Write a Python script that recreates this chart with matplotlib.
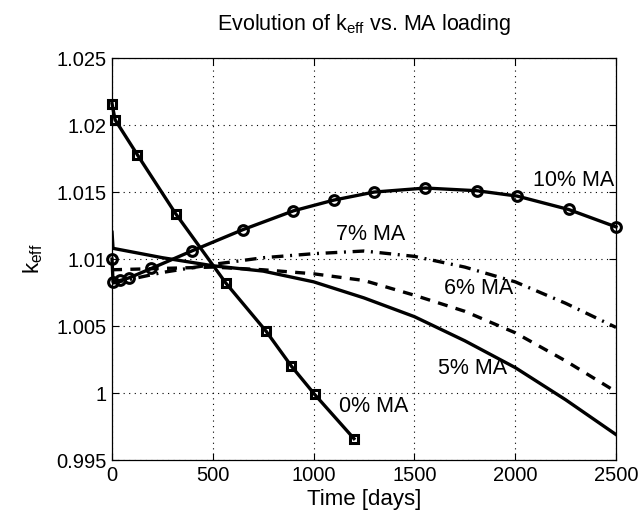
import matplotlib
matplotlib.use("Agg")
import matplotlib.pyplot as plt

plt.rcParams['font.family'] = ['Liberation Sans', 'DejaVu Sans']
plt.rcParams['mathtext.fontset'] = 'custom'
plt.rcParams['mathtext.rm'] = 'Liberation Sans'
plt.rcParams['mathtext.it'] = 'Liberation Sans'

# 0% MA (squares)
t0 = [0, 15, 125, 315, 565, 765, 890, 1005, 1200]
k0 = [1.0216, 1.0204, 1.0178, 1.0134, 1.0082, 1.0046, 1.0020, 0.9999, 0.9966]

# 10% MA (circles)
t10 = [0, 5, 40, 85, 195, 395, 650, 900, 1100, 1300, 1555, 1810, 2010, 2265, 2500]
k10 = [1.0100, 1.0083, 1.0084, 1.0086, 1.0093, 1.0106, 1.0122, 1.0136, 1.0144,
       1.0150, 1.0153, 1.0151, 1.0147, 1.0137, 1.0124]

# 5% MA (solid)
t5 = [0, 5, 250, 500, 750, 1000, 1250, 1500, 1750, 2000, 2250, 2500]
k5 = [1.0120, 1.0108, 1.0101, 1.0095, 1.0091, 1.0083, 1.0071, 1.0057, 1.0039,
      1.0019, 0.9995, 0.9969]

# 6% MA (dashed)
t6 = [0, 250, 500, 750, 1000, 1250, 1500, 1750, 2000, 2250, 2500]
k6 = [1.0092, 1.0093, 1.0094, 1.0092, 1.0089, 1.0084, 1.0073, 1.0061, 1.0045,
      1.0024, 1.0001]

# 7% MA (dash-dot)
t7 = [0, 250, 500, 750, 1000, 1250, 1500, 1750, 2000, 2250, 2500]
k7 = [1.0082, 1.0090, 1.0096, 1.0101, 1.0104, 1.0106, 1.0102, 1.0094, 1.0083,
      1.0067, 1.0049]

labels = ["0% MA", "5% MA", "6% MA", "7% MA", "10% MA"]
label_pos = [(1300, 0.9990), (1790, 1.0018), (1820, 1.0078), (1285, 1.0118), (2290, 1.0159)]

xticks = [0, 500, 1000, 1500, 2000, 2500]
yticks = [0.995, 1.0, 1.005, 1.01, 1.015, 1.02, 1.025]
yticklabels = ["0.995", "1", "1.005", "1.01", "1.015", "1.02", "1.025"]

fig = plt.figure(figsize=(6.42, 5.14), dpi=100)
ax = fig.add_axes([0.1745, 0.105, 0.785, 0.782])

lw = 2.4
ax.plot(t0, k0, color='black', lw=lw, marker='s', ms=6, mfc='none', mec='black', mew=2.2, clip_on=False, zorder=3)
ax.plot(t10, k10, color='black', lw=lw, marker='o', ms=7, mfc='none', mec='black', mew=2.2, clip_on=False, zorder=3)
ax.plot(t5, k5, color='black', lw=lw, ls='-')
ax.plot(t6, k6, color='black', lw=lw, ls=(0, (3.0, 2.5)))
ax.plot(t7, k7, color='black', lw=lw, ls=(0, (3.5, 2.0, 0.6, 2.0)))

for lab, (x, y) in zip(labels, label_pos):
    ax.text(x, y, lab, fontsize=15.5, ha='center', va='center')

ax.set_xlim(0, 2500)
ax.set_ylim(0.995, 1.025)
ax.set_xticks(xticks)
ax.set_yticks(yticks)
ax.set_yticklabels(yticklabels)
ax.tick_params(direction='in', top=True, right=True, length=5, labelsize=14.5, width=0.8, pad=4)
ax.grid(True, color='black', ls=(0, (1, 4)), lw=0.8)
for s in ax.spines.values():
    s.set_linewidth(0.9)

ax.set_title(r"Evolution of k$_{\rm eff}$ vs. MA loading", fontsize=15.5, pad=20)
ax.set_xlabel("Time [days]", fontsize=16, labelpad=3)
ax.set_ylabel(r"k$_{\rm eff}$", fontsize=16, labelpad=8)

fig.savefig("out.png", dpi=100)
